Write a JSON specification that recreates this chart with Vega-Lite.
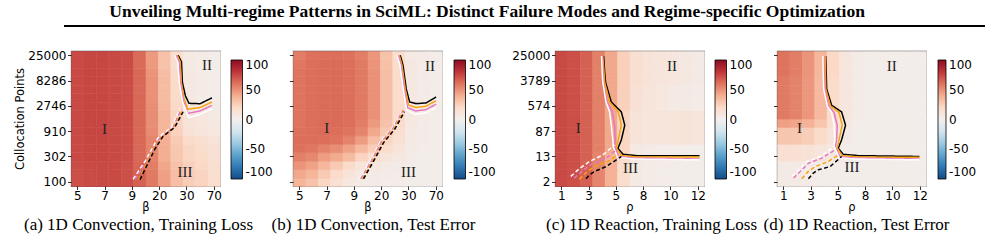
{
"$schema":"https://vega.github.io/schema/vega-lite/v6.json",
"padding":{"left":14,"top":3,"right":0,"bottom":0},
"title":{"text":"Unveiling Multi-regime Patterns in SciML: Distinct Failure Modes and Regime-specific Optimization","font":"Liberation Serif","fontSize":17.5,"fontWeight":"bold","color":"black","anchor":"middle","dx":-40,"offset":4},
"config":{
 "view":{"stroke":"#505050","strokeWidth":1.1},
 "axis":{"labelFont":"DejaVu Sans","labelFontSize":12,"labelColor":"black","titleFont":"DejaVu Sans","titleFontSize":11.5,"titleFontWeight":"normal","titleColor":"black","domain":false,"grid":false,"tickColor":"black","tickSize":3.5,"tickWidth":0.8,"labelPadding":1.5,"titlePadding":2,"labelOverlap":false,"labelFlush":false},
 "axisX":{"titlePadding":0,"labelPadding":1},
 "legend":{"labelFont":"DejaVu Sans","labelFontSize":12,"labelColor":"black"}
},
"vconcat":[
 {"width":969,"height":2,"view":{"stroke":null},"data":{"values":[{"a":0}]},"mark":{"type":"rule","strokeWidth":2.2,"color":"black","xOffset":-7,"x2Offset":-7},
  "encoding":{"x":{"datum":0,"type":"quantitative","scale":{"domain":[0,1]},"axis":null},"x2":{"datum":1},"y":{"datum":0.5,"type":"quantitative","scale":{"domain":[0,1]},"axis":null}}},
 {"hconcat":[
  {"hconcat":[
   {"width":149,"height":135,
    "title":{"text":"(a) 1D Convection, Training Loss","orient":"bottom","anchor":"middle","frame":"group","dx":-7,"offset":4,"font":"Liberation Serif","fontSize":17,"fontWeight":"normal","color":"black"},
    "resolve":{"scale":{"stroke":"independent"}},
    "layer":[
     {"data":{"values":[
{"x":0,"y":0,"v":72},{"x":1,"y":0,"v":73},{"x":2,"y":0,"v":74},{"x":3,"y":0,"v":74},{"x":4,"y":0,"v":72},{"x":5,"y":0,"v":66},{"x":6,"y":0,"v":58},{"x":7,"y":0,"v":45},{"x":8,"y":0,"v":33},{"x":9,"y":0,"v":26},{"x":10,"y":0,"v":23},{"x":11,"y":0,"v":17},
{"x":0,"y":1,"v":72},{"x":1,"y":1,"v":73},{"x":2,"y":1,"v":74},{"x":3,"y":1,"v":74},{"x":4,"y":1,"v":72},{"x":5,"y":1,"v":66},{"x":6,"y":1,"v":58},{"x":7,"y":1,"v":45},{"x":8,"y":1,"v":33},{"x":9,"y":1,"v":26},{"x":10,"y":1,"v":23},{"x":11,"y":1,"v":17},
{"x":0,"y":2,"v":73},{"x":1,"y":2,"v":74},{"x":2,"y":2,"v":74},{"x":3,"y":2,"v":74},{"x":4,"y":2,"v":72},{"x":5,"y":2,"v":65},{"x":6,"y":2,"v":57},{"x":7,"y":2,"v":43},{"x":8,"y":2,"v":31},{"x":9,"y":2,"v":25},{"x":10,"y":2,"v":21},{"x":11,"y":2,"v":16},
{"x":0,"y":3,"v":74},{"x":1,"y":3,"v":75},{"x":2,"y":3,"v":75},{"x":3,"y":3,"v":74},{"x":4,"y":3,"v":73},{"x":5,"y":3,"v":64},{"x":6,"y":3,"v":55},{"x":7,"y":3,"v":40},{"x":8,"y":3,"v":29},{"x":9,"y":3,"v":22},{"x":10,"y":3,"v":19},{"x":11,"y":3,"v":14},
{"x":0,"y":4,"v":74},{"x":1,"y":4,"v":75},{"x":2,"y":4,"v":75},{"x":3,"y":4,"v":74},{"x":4,"y":4,"v":73},{"x":5,"y":4,"v":64},{"x":6,"y":4,"v":54},{"x":7,"y":4,"v":40},{"x":8,"y":4,"v":29},{"x":9,"y":4,"v":22},{"x":10,"y":4,"v":18},{"x":11,"y":4,"v":14},
{"x":0,"y":5,"v":74},{"x":1,"y":5,"v":75},{"x":2,"y":5,"v":75},{"x":3,"y":5,"v":74},{"x":4,"y":5,"v":73},{"x":5,"y":5,"v":64},{"x":6,"y":5,"v":54},{"x":7,"y":5,"v":39},{"x":8,"y":5,"v":27},{"x":9,"y":5,"v":19},{"x":10,"y":5,"v":16},{"x":11,"y":5,"v":12},
{"x":0,"y":6,"v":74},{"x":1,"y":6,"v":75},{"x":2,"y":6,"v":75},{"x":3,"y":6,"v":74},{"x":4,"y":6,"v":73},{"x":5,"y":6,"v":64},{"x":6,"y":6,"v":52},{"x":7,"y":6,"v":37},{"x":8,"y":6,"v":24},{"x":9,"y":6,"v":13},{"x":10,"y":6,"v":10},{"x":11,"y":6,"v":8},
{"x":0,"y":7,"v":74},{"x":1,"y":7,"v":75},{"x":2,"y":7,"v":75},{"x":3,"y":7,"v":74},{"x":4,"y":7,"v":73},{"x":5,"y":7,"v":64},{"x":6,"y":7,"v":51},{"x":7,"y":7,"v":36},{"x":8,"y":7,"v":23},{"x":9,"y":7,"v":12},{"x":10,"y":7,"v":9},{"x":11,"y":7,"v":7},
{"x":0,"y":8,"v":74},{"x":1,"y":8,"v":75},{"x":2,"y":8,"v":75},{"x":3,"y":8,"v":74},{"x":4,"y":8,"v":73},{"x":5,"y":8,"v":64},{"x":6,"y":8,"v":51},{"x":7,"y":8,"v":36},{"x":8,"y":8,"v":22},{"x":9,"y":8,"v":11},{"x":10,"y":8,"v":8},{"x":11,"y":8,"v":6},
{"x":0,"y":9,"v":74},{"x":1,"y":9,"v":75},{"x":2,"y":9,"v":75},{"x":3,"y":9,"v":74},{"x":4,"y":9,"v":73},{"x":5,"y":9,"v":64},{"x":6,"y":9,"v":51},{"x":7,"y":9,"v":35},{"x":8,"y":9,"v":21},{"x":9,"y":9,"v":10},{"x":10,"y":9,"v":7},{"x":11,"y":9,"v":5},
{"x":0,"y":10,"v":74},{"x":1,"y":10,"v":75},{"x":2,"y":10,"v":75},{"x":3,"y":10,"v":74},{"x":4,"y":10,"v":73},{"x":5,"y":10,"v":64},{"x":6,"y":10,"v":50},{"x":7,"y":10,"v":34},{"x":8,"y":10,"v":20},{"x":9,"y":10,"v":7},{"x":10,"y":10,"v":4},{"x":11,"y":10,"v":3},
{"x":0,"y":11,"v":74},{"x":1,"y":11,"v":75},{"x":2,"y":11,"v":75},{"x":3,"y":11,"v":74},{"x":4,"y":11,"v":73},{"x":5,"y":11,"v":64},{"x":6,"y":11,"v":50},{"x":7,"y":11,"v":34},{"x":8,"y":11,"v":20},{"x":9,"y":11,"v":7},{"x":10,"y":11,"v":4},{"x":11,"y":11,"v":3},
{"x":0,"y":12,"v":74},{"x":1,"y":12,"v":75},{"x":2,"y":12,"v":75},{"x":3,"y":12,"v":74},{"x":4,"y":12,"v":73},{"x":5,"y":12,"v":64},{"x":6,"y":12,"v":50},{"x":7,"y":12,"v":34},{"x":8,"y":12,"v":20},{"x":9,"y":12,"v":7},{"x":10,"y":12,"v":4},{"x":11,"y":12,"v":3},
{"x":0,"y":13,"v":74},{"x":1,"y":13,"v":75},{"x":2,"y":13,"v":75},{"x":3,"y":13,"v":74},{"x":4,"y":13,"v":73},{"x":5,"y":13,"v":64},{"x":6,"y":13,"v":49},{"x":7,"y":13,"v":33},{"x":8,"y":13,"v":19},{"x":9,"y":13,"v":7},{"x":10,"y":13,"v":4},{"x":11,"y":13,"v":3},
{"x":0,"y":14,"v":74},{"x":1,"y":14,"v":75},{"x":2,"y":14,"v":75},{"x":3,"y":14,"v":74},{"x":4,"y":14,"v":73},{"x":5,"y":14,"v":63},{"x":6,"y":14,"v":47},{"x":7,"y":14,"v":31},{"x":8,"y":14,"v":17},{"x":9,"y":14,"v":6},{"x":10,"y":14,"v":4},{"x":11,"y":14,"v":3},
{"x":0,"y":15,"v":74},{"x":1,"y":15,"v":75},{"x":2,"y":15,"v":75},{"x":3,"y":15,"v":74},{"x":4,"y":15,"v":73},{"x":5,"y":15,"v":63},{"x":6,"y":15,"v":47},{"x":7,"y":15,"v":31},{"x":8,"y":15,"v":17},{"x":9,"y":15,"v":6},{"x":10,"y":15,"v":4},{"x":11,"y":15,"v":3}
     ]},
      "mark":{"type":"rect","binSpacing":0,"strokeWidth":0.6},
      "encoding":{
       "x":{"field":"x","type":"quantitative","bin":{"step":1,"extent":[0,12]},"scale":{"domain":[0,12],"nice":false,"zero":false},"axis":{"values":[0.5,2.7,4.9,7.1,9.3,11.5],"labelExpr":"['5','7','9','20','30','70'][round((datum.value-0.5)/2.2)]","title":"β"}},
       "y":{"field":"y","type":"quantitative","bin":{"step":1,"extent":[0,16]},"scale":{"domain":[0,16],"nice":false,"zero":false},"axis":{"values":[0.5,3.5,6.5,9.5,12.5,15.5],"labelExpr":"['100','302','910','2746','8286','25000'][floor(datum.value/3)]","title":"Collocation Points"}},
       "color":{"field":"v","type":"quantitative","scale":{"scheme":"redblue","reverse":true,"domain":[-100,100]},"legend":{"orient":"none","legendX":160,"legendY":9,"direction":"vertical","gradientLength":119,"gradientThickness":11.5,"title":null,"values":[-100,-50,0,50,100],"gradientStrokeColor":"black","gradientStrokeWidth":0.8,"labelOffset":3,"labelBaseline":"middle","labelExpr":"replace(datum.label,'−','-')"}},
       "stroke":{"field":"v","type":"quantitative","scale":{"scheme":"redblue","reverse":true,"domain":[-100,100]},"legend":null}
      }},
     {"data":{"values":[
{"m":"m4","b":"I-II","o":0,"x":8.63,"y":15.5},{"m":"m4","b":"I-II","o":1,"x":8.9,"y":14.7},{"m":"m4","b":"I-II","o":2,"x":8.97,"y":12.3},{"m":"m4","b":"I-II","o":3,"x":9.21,"y":10.7},{"m":"m4","b":"I-II","o":4,"x":9.5,"y":9.8},{"m":"m4","b":"I-II","o":5,"x":10.4,"y":9.75},{"m":"m4","b":"I-II","o":6,"x":11.35,"y":10.45},
{"m":"m3","b":"I-II","o":0,"x":8.55,"y":15.5},{"m":"m3","b":"I-II","o":1,"x":8.8,"y":14.7},{"m":"m3","b":"I-II","o":2,"x":8.88,"y":12.3},{"m":"m3","b":"I-II","o":3,"x":9.1,"y":10.4},{"m":"m3","b":"I-II","o":4,"x":9.4,"y":9.1},{"m":"m3","b":"I-II","o":5,"x":10.4,"y":9.3},{"m":"m3","b":"I-II","o":6,"x":11.35,"y":9.95},
{"m":"m2","b":"I-II","o":0,"x":8.45,"y":15.5},{"m":"m2","b":"I-II","o":1,"x":8.7,"y":14.7},{"m":"m2","b":"I-II","o":2,"x":8.8,"y":12.3},{"m":"m2","b":"I-II","o":3,"x":9.05,"y":10.1},{"m":"m2","b":"I-II","o":4,"x":9.4,"y":8.6},{"m":"m2","b":"I-II","o":5,"x":10.4,"y":8.9},{"m":"m2","b":"I-II","o":6,"x":11.35,"y":9.55},
{"m":"m1","b":"I-II","o":0,"x":8.35,"y":15.5},{"m":"m1","b":"I-II","o":1,"x":8.6,"y":14.7},{"m":"m1","b":"I-II","o":2,"x":8.72,"y":12.3},{"m":"m1","b":"I-II","o":3,"x":9.0,"y":9.9},{"m":"m1","b":"I-II","o":4,"x":9.5,"y":8.1},{"m":"m1","b":"I-II","o":5,"x":10.4,"y":8.5},{"m":"m1","b":"I-II","o":6,"x":11.35,"y":9.15},
{"m":"m1","b":"I-III","o":0,"x":5.0,"y":0.8},{"m":"m1","b":"I-III","o":1,"x":6.0,"y":3.0},{"m":"m1","b":"I-III","o":2,"x":7.0,"y":5.7},{"m":"m1","b":"I-III","o":3,"x":8.1,"y":7.0},{"m":"m1","b":"I-III","o":4,"x":8.8,"y":9.2},
{"m":"m2","b":"I-III","o":0,"x":5.15,"y":0.8},{"m":"m2","b":"I-III","o":1,"x":6.15,"y":3.0},{"m":"m2","b":"I-III","o":2,"x":7.1,"y":5.55},{"m":"m2","b":"I-III","o":3,"x":8.2,"y":6.9},{"m":"m2","b":"I-III","o":4,"x":8.88,"y":9.1},
{"m":"m3","b":"I-III","o":0,"x":5.45,"y":0.75},{"m":"m3","b":"I-III","o":1,"x":6.6,"y":4.2},{"m":"m3","b":"I-III","o":2,"x":7.35,"y":5.85},{"m":"m3","b":"I-III","o":3,"x":8.3,"y":6.9},{"m":"m3","b":"I-III","o":4,"x":8.95,"y":8.9},
{"m":"m4","b":"I-III","o":0,"x":5.55,"y":0.75},{"m":"m4","b":"I-III","o":1,"x":6.76,"y":4.4},{"m":"m4","b":"I-III","o":2,"x":7.42,"y":5.9},{"m":"m4","b":"I-III","o":3,"x":8.36,"y":6.95},{"m":"m4","b":"I-III","o":4,"x":9.03,"y":8.8}
     ]},
      "mark":{"type":"line","strokeWidth":1.5},
      "encoding":{
       "x":{"field":"x","type":"quantitative","scale":{"domain":[0,12],"nice":false,"zero":false}},
       "y":{"field":"y","type":"quantitative","scale":{"domain":[0,16],"nice":false,"zero":false}},
       "stroke":{"field":"m","type":"nominal","scale":{"domain":["m1","m2","m3","m4"],"range":["white","#e377c2","#f5a40c","black"]},"legend":null},
       "strokeDash":{"field":"b","type":"nominal","scale":{"domain":["I-II","I-III"],"range":[[1,0],[4,2.5]]},"legend":null},
       "order":{"field":"o","type":"quantitative"}
      }},
     {"data":{"values":[{"t":"I","x":2.7,"y":6.8},{"t":"II","x":10.96,"y":14.35},{"t":"III","x":9.19,"y":1.65}]},
      "mark":{"type":"text","font":"Liberation Serif","fontSize":15,"color":"#222"},
      "encoding":{"x":{"field":"x","type":"quantitative","scale":{"domain":[0,12],"nice":false,"zero":false}},"y":{"field":"y","type":"quantitative","scale":{"domain":[0,16],"nice":false,"zero":false}},"text":{"field":"t"}}}
    ]},
   {"width":149,"height":135,
    "title":{"text":"(b) 1D Convection, Test Error","orient":"bottom","anchor":"middle","frame":"group","dx":6,"offset":4,"font":"Liberation Serif","fontSize":17,"fontWeight":"normal","color":"black"},
    "resolve":{"scale":{"stroke":"independent"}},
    "layer":[
     {"data":{"values":[
{"x":0,"y":0,"v":37},{"x":1,"y":0,"v":31},{"x":2,"y":0,"v":22},{"x":3,"y":0,"v":15},{"x":4,"y":0,"v":8},{"x":5,"y":0,"v":4},{"x":6,"y":0,"v":4},{"x":7,"y":0,"v":3},{"x":8,"y":0,"v":3},{"x":9,"y":0,"v":2},{"x":10,"y":0,"v":2},{"x":11,"y":0,"v":2},
{"x":0,"y":1,"v":42},{"x":1,"y":1,"v":37},{"x":2,"y":1,"v":28},{"x":3,"y":1,"v":20},{"x":4,"y":1,"v":12},{"x":5,"y":1,"v":6},{"x":6,"y":1,"v":5},{"x":7,"y":1,"v":4},{"x":8,"y":1,"v":3},{"x":9,"y":1,"v":3},{"x":10,"y":1,"v":2},{"x":11,"y":1,"v":2},
{"x":0,"y":2,"v":49},{"x":1,"y":2,"v":44},{"x":2,"y":2,"v":36},{"x":3,"y":2,"v":28},{"x":4,"y":2,"v":20},{"x":5,"y":2,"v":10},{"x":6,"y":2,"v":8},{"x":7,"y":2,"v":6},{"x":8,"y":2,"v":4},{"x":9,"y":2,"v":3},{"x":10,"y":2,"v":3},{"x":11,"y":2,"v":2},
{"x":0,"y":3,"v":56},{"x":1,"y":3,"v":53},{"x":2,"y":3,"v":46},{"x":3,"y":3,"v":41},{"x":4,"y":3,"v":34},{"x":5,"y":3,"v":23},{"x":6,"y":3,"v":16},{"x":7,"y":3,"v":11},{"x":8,"y":3,"v":7},{"x":9,"y":3,"v":4},{"x":10,"y":3,"v":3},{"x":11,"y":3,"v":3},
{"x":0,"y":4,"v":61},{"x":1,"y":4,"v":59},{"x":2,"y":4,"v":55},{"x":3,"y":4,"v":51},{"x":4,"y":4,"v":44},{"x":5,"y":4,"v":35},{"x":6,"y":4,"v":26},{"x":7,"y":4,"v":18},{"x":8,"y":4,"v":11},{"x":9,"y":4,"v":5},{"x":10,"y":4,"v":3},{"x":11,"y":4,"v":3},
{"x":0,"y":5,"v":62},{"x":1,"y":5,"v":62},{"x":2,"y":5,"v":62},{"x":3,"y":5,"v":60},{"x":4,"y":5,"v":55},{"x":5,"y":5,"v":46},{"x":6,"y":5,"v":33},{"x":7,"y":5,"v":22},{"x":8,"y":5,"v":14},{"x":9,"y":5,"v":6},{"x":10,"y":5,"v":4},{"x":11,"y":5,"v":3},
{"x":0,"y":6,"v":61},{"x":1,"y":6,"v":62},{"x":2,"y":6,"v":63},{"x":3,"y":6,"v":62},{"x":4,"y":6,"v":60},{"x":5,"y":6,"v":54},{"x":6,"y":6,"v":42},{"x":7,"y":6,"v":28},{"x":8,"y":6,"v":16},{"x":9,"y":6,"v":6},{"x":10,"y":6,"v":4},{"x":11,"y":6,"v":3},
{"x":0,"y":7,"v":60},{"x":1,"y":7,"v":62},{"x":2,"y":7,"v":63},{"x":3,"y":7,"v":63},{"x":4,"y":7,"v":62},{"x":5,"y":7,"v":57},{"x":6,"y":7,"v":47},{"x":7,"y":7,"v":31},{"x":8,"y":7,"v":18},{"x":9,"y":7,"v":7},{"x":10,"y":7,"v":4},{"x":11,"y":7,"v":3},
{"x":0,"y":8,"v":60},{"x":1,"y":8,"v":62},{"x":2,"y":8,"v":63},{"x":3,"y":8,"v":63},{"x":4,"y":8,"v":62},{"x":5,"y":8,"v":58},{"x":6,"y":8,"v":50},{"x":7,"y":8,"v":33},{"x":8,"y":8,"v":19},{"x":9,"y":8,"v":7},{"x":10,"y":8,"v":4},{"x":11,"y":8,"v":3},
{"x":0,"y":9,"v":60},{"x":1,"y":9,"v":62},{"x":2,"y":9,"v":63},{"x":3,"y":9,"v":63},{"x":4,"y":9,"v":62},{"x":5,"y":9,"v":58},{"x":6,"y":9,"v":50},{"x":7,"y":9,"v":33},{"x":8,"y":9,"v":19},{"x":9,"y":9,"v":7},{"x":10,"y":9,"v":4},{"x":11,"y":9,"v":3},
{"x":0,"y":10,"v":60},{"x":1,"y":10,"v":62},{"x":2,"y":10,"v":63},{"x":3,"y":10,"v":63},{"x":4,"y":10,"v":62},{"x":5,"y":10,"v":58},{"x":6,"y":10,"v":50},{"x":7,"y":10,"v":33},{"x":8,"y":10,"v":19},{"x":9,"y":10,"v":7},{"x":10,"y":10,"v":4},{"x":11,"y":10,"v":3},
{"x":0,"y":11,"v":60},{"x":1,"y":11,"v":62},{"x":2,"y":11,"v":63},{"x":3,"y":11,"v":63},{"x":4,"y":11,"v":62},{"x":5,"y":11,"v":58},{"x":6,"y":11,"v":50},{"x":7,"y":11,"v":33},{"x":8,"y":11,"v":19},{"x":9,"y":11,"v":7},{"x":10,"y":11,"v":4},{"x":11,"y":11,"v":3},
{"x":0,"y":12,"v":60},{"x":1,"y":12,"v":62},{"x":2,"y":12,"v":63},{"x":3,"y":12,"v":63},{"x":4,"y":12,"v":62},{"x":5,"y":12,"v":58},{"x":6,"y":12,"v":50},{"x":7,"y":12,"v":33},{"x":8,"y":12,"v":19},{"x":9,"y":12,"v":7},{"x":10,"y":12,"v":4},{"x":11,"y":12,"v":3},
{"x":0,"y":13,"v":60},{"x":1,"y":13,"v":62},{"x":2,"y":13,"v":63},{"x":3,"y":13,"v":63},{"x":4,"y":13,"v":62},{"x":5,"y":13,"v":58},{"x":6,"y":13,"v":50},{"x":7,"y":13,"v":33},{"x":8,"y":13,"v":19},{"x":9,"y":13,"v":7},{"x":10,"y":13,"v":4},{"x":11,"y":13,"v":3},
{"x":0,"y":14,"v":59},{"x":1,"y":14,"v":62},{"x":2,"y":14,"v":63},{"x":3,"y":14,"v":63},{"x":4,"y":14,"v":62},{"x":5,"y":14,"v":58},{"x":6,"y":14,"v":49},{"x":7,"y":14,"v":32},{"x":8,"y":14,"v":18},{"x":9,"y":14,"v":7},{"x":10,"y":14,"v":4},{"x":11,"y":14,"v":3},
{"x":0,"y":15,"v":57},{"x":1,"y":15,"v":61},{"x":2,"y":15,"v":62},{"x":3,"y":15,"v":62},{"x":4,"y":15,"v":61},{"x":5,"y":15,"v":57},{"x":6,"y":15,"v":48},{"x":7,"y":15,"v":31},{"x":8,"y":15,"v":17},{"x":9,"y":15,"v":6},{"x":10,"y":15,"v":4},{"x":11,"y":15,"v":3}
     ]},
      "mark":{"type":"rect","binSpacing":0,"strokeWidth":0.6},
      "encoding":{
       "x":{"field":"x","type":"quantitative","bin":{"step":1,"extent":[0,12]},"scale":{"domain":[0,12],"nice":false,"zero":false},"axis":{"values":[0.5,2.7,4.9,7.1,9.3,11.5],"labelExpr":"['5','7','9','20','30','70'][round((datum.value-0.5)/2.2)]","title":"β"}},
       "y":{"field":"y","type":"quantitative","bin":{"step":1,"extent":[0,16]},"scale":{"domain":[0,16],"nice":false,"zero":false},"axis":{"values":[0.5,3.5,6.5,9.5,12.5,15.5],"labels":false,"title":null}},
       "color":{"field":"v","type":"quantitative","scale":{"scheme":"redblue","reverse":true,"domain":[-100,100]},"legend":{"orient":"none","legendX":161,"legendY":9,"direction":"vertical","gradientLength":119,"gradientThickness":11.5,"title":null,"values":[-100,-50,0,50,100],"gradientStrokeColor":"black","gradientStrokeWidth":0.8,"labelOffset":3,"labelBaseline":"middle","labelExpr":"replace(datum.label,'−','-')"}},
       "stroke":{"field":"v","type":"quantitative","scale":{"scheme":"redblue","reverse":true,"domain":[-100,100]},"legend":null}
      }},
     {"data":{"values":[
{"m":"m4","b":"I-II","o":0,"x":8.64,"y":15.5},{"m":"m4","b":"I-II","o":1,"x":8.86,"y":14.3},{"m":"m4","b":"I-II","o":2,"x":9.12,"y":11.5},{"m":"m4","b":"I-II","o":3,"x":9.39,"y":9.96},{"m":"m4","b":"I-II","o":4,"x":9.92,"y":9.76},{"m":"m4","b":"I-II","o":5,"x":10.72,"y":9.85},{"m":"m4","b":"I-II","o":6,"x":11.52,"y":10.55},
{"m":"m3","b":"I-II","o":0,"x":8.56,"y":15.5},{"m":"m3","b":"I-II","o":1,"x":8.78,"y":14.3},{"m":"m3","b":"I-II","o":2,"x":9.04,"y":11.5},{"m":"m3","b":"I-II","o":3,"x":9.3,"y":9.6},{"m":"m3","b":"I-II","o":4,"x":9.9,"y":9.3},{"m":"m3","b":"I-II","o":5,"x":10.7,"y":9.45},{"m":"m3","b":"I-II","o":6,"x":11.52,"y":10.1},
{"m":"m2","b":"I-II","o":0,"x":8.47,"y":15.5},{"m":"m2","b":"I-II","o":1,"x":8.7,"y":14.3},{"m":"m2","b":"I-II","o":2,"x":8.96,"y":11.5},{"m":"m2","b":"I-II","o":3,"x":9.22,"y":9.3},{"m":"m2","b":"I-II","o":4,"x":9.85,"y":8.9},{"m":"m2","b":"I-II","o":5,"x":10.7,"y":9.05},{"m":"m2","b":"I-II","o":6,"x":11.52,"y":9.7},
{"m":"m1","b":"I-II","o":0,"x":8.38,"y":15.5},{"m":"m1","b":"I-II","o":1,"x":8.62,"y":14.3},{"m":"m1","b":"I-II","o":2,"x":8.88,"y":11.5},{"m":"m1","b":"I-II","o":3,"x":9.15,"y":9.0},{"m":"m1","b":"I-II","o":4,"x":9.8,"y":8.5},{"m":"m1","b":"I-II","o":5,"x":10.7,"y":8.65},{"m":"m1","b":"I-II","o":6,"x":11.52,"y":9.3},
{"m":"m1","b":"I-III","o":0,"x":5.35,"y":0.85},{"m":"m1","b":"I-III","o":1,"x":6.3,"y":3.2},{"m":"m1","b":"I-III","o":2,"x":7.05,"y":5.3},{"m":"m1","b":"I-III","o":3,"x":8.0,"y":6.9},{"m":"m1","b":"I-III","o":4,"x":8.8,"y":9.0},
{"m":"m2","b":"I-III","o":0,"x":5.45,"y":0.85},{"m":"m2","b":"I-III","o":1,"x":6.4,"y":3.2},{"m":"m2","b":"I-III","o":2,"x":7.12,"y":5.25},{"m":"m2","b":"I-III","o":3,"x":8.06,"y":6.85},{"m":"m2","b":"I-III","o":4,"x":8.86,"y":9.0},
{"m":"m3","b":"I-III","o":0,"x":5.6,"y":0.85},{"m":"m3","b":"I-III","o":1,"x":6.6,"y":3.4},{"m":"m3","b":"I-III","o":2,"x":7.25,"y":5.2},{"m":"m3","b":"I-III","o":3,"x":8.15,"y":6.8},{"m":"m3","b":"I-III","o":4,"x":8.92,"y":8.9},
{"m":"m4","b":"I-III","o":0,"x":5.68,"y":0.85},{"m":"m4","b":"I-III","o":1,"x":6.7,"y":3.5},{"m":"m4","b":"I-III","o":2,"x":7.3,"y":5.15},{"m":"m4","b":"I-III","o":3,"x":8.2,"y":6.75},{"m":"m4","b":"I-III","o":4,"x":8.98,"y":8.8}
     ]},
      "mark":{"type":"line","strokeWidth":1.5},
      "encoding":{
       "x":{"field":"x","type":"quantitative","scale":{"domain":[0,12],"nice":false,"zero":false}},
       "y":{"field":"y","type":"quantitative","scale":{"domain":[0,16],"nice":false,"zero":false}},
       "stroke":{"field":"m","type":"nominal","scale":{"domain":["m1","m2","m3","m4"],"range":["white","#e377c2","#f5a40c","black"]},"legend":null},
       "strokeDash":{"field":"b","type":"nominal","scale":{"domain":["I-II","I-III"],"range":[[1,0],[4,2.5]]},"legend":null},
       "order":{"field":"o","type":"quantitative"}
      }},
     {"data":{"values":[{"t":"I","x":2.72,"y":6.9},{"t":"II","x":11.04,"y":14.2},{"t":"III","x":9.31,"y":1.7}]},
      "mark":{"type":"text","font":"Liberation Serif","fontSize":15,"color":"#222"},
      "encoding":{"x":{"field":"x","type":"quantitative","scale":{"domain":[0,12],"nice":false,"zero":false}},"y":{"field":"y","type":"quantitative","scale":{"domain":[0,16],"nice":false,"zero":false}},"text":{"field":"t"}}}
    ]}
  ],"bounds":"flush","spacing":73,"resolve":{"scale":{"color":"independent"},"legend":{"color":"independent"}}},
  {"hconcat":[
   {"width":149,"height":135,
    "title":{"text":"(c) 1D Reaction, Training Loss","orient":"bottom","anchor":"middle","frame":"group","dx":22,"offset":4,"font":"Liberation Serif","fontSize":17,"fontWeight":"normal","color":"black"},
    "resolve":{"scale":{"stroke":"independent"}},
    "layer":[
     {"data":{"values":[
{"x":0,"y":0,"v":74},{"x":1,"y":0,"v":72},{"x":2,"y":0,"v":66},{"x":3,"y":0,"v":54},{"x":4,"y":0,"v":38},{"x":5,"y":0,"v":18},{"x":6,"y":0,"v":6},{"x":7,"y":0,"v":4},{"x":8,"y":0,"v":3},{"x":9,"y":0,"v":3},{"x":10,"y":0,"v":2},{"x":11,"y":0,"v":2},
{"x":0,"y":1,"v":74},{"x":1,"y":1,"v":72},{"x":2,"y":1,"v":66},{"x":3,"y":1,"v":54},{"x":4,"y":1,"v":38},{"x":5,"y":1,"v":18},{"x":6,"y":1,"v":6},{"x":7,"y":1,"v":4},{"x":8,"y":1,"v":3},{"x":9,"y":1,"v":3},{"x":10,"y":1,"v":2},{"x":11,"y":1,"v":2},
{"x":0,"y":2,"v":74},{"x":1,"y":2,"v":72},{"x":2,"y":2,"v":66},{"x":3,"y":2,"v":54},{"x":4,"y":2,"v":38},{"x":5,"y":2,"v":18},{"x":6,"y":2,"v":6},{"x":7,"y":2,"v":4},{"x":8,"y":2,"v":3},{"x":9,"y":2,"v":3},{"x":10,"y":2,"v":2},{"x":11,"y":2,"v":2},
{"x":0,"y":3,"v":74},{"x":1,"y":3,"v":72},{"x":2,"y":3,"v":66},{"x":3,"y":3,"v":54},{"x":4,"y":3,"v":38},{"x":5,"y":3,"v":18},{"x":6,"y":3,"v":6},{"x":7,"y":3,"v":4},{"x":8,"y":3,"v":3},{"x":9,"y":3,"v":3},{"x":10,"y":3,"v":2},{"x":11,"y":3,"v":2},
{"x":0,"y":4,"v":74},{"x":1,"y":4,"v":72},{"x":2,"y":4,"v":66},{"x":3,"y":4,"v":56},{"x":4,"y":4,"v":42},{"x":5,"y":4,"v":22},{"x":6,"y":4,"v":6},{"x":7,"y":4,"v":4},{"x":8,"y":4,"v":3},{"x":9,"y":4,"v":3},{"x":10,"y":4,"v":2},{"x":11,"y":4,"v":2},
{"x":0,"y":5,"v":74},{"x":1,"y":5,"v":72},{"x":2,"y":5,"v":66},{"x":3,"y":5,"v":56},{"x":4,"y":5,"v":42},{"x":5,"y":5,"v":22},{"x":6,"y":5,"v":12},{"x":7,"y":5,"v":10},{"x":8,"y":5,"v":11},{"x":9,"y":5,"v":11},{"x":10,"y":5,"v":12},{"x":11,"y":5,"v":10},
{"x":0,"y":6,"v":74},{"x":1,"y":6,"v":72},{"x":2,"y":6,"v":66},{"x":3,"y":6,"v":56},{"x":4,"y":6,"v":42},{"x":5,"y":6,"v":22},{"x":6,"y":6,"v":12},{"x":7,"y":6,"v":10},{"x":8,"y":6,"v":11},{"x":9,"y":6,"v":11},{"x":10,"y":6,"v":12},{"x":11,"y":6,"v":10},
{"x":0,"y":7,"v":74},{"x":1,"y":7,"v":72},{"x":2,"y":7,"v":66},{"x":3,"y":7,"v":56},{"x":4,"y":7,"v":42},{"x":5,"y":7,"v":22},{"x":6,"y":7,"v":12},{"x":7,"y":7,"v":10},{"x":8,"y":7,"v":11},{"x":9,"y":7,"v":11},{"x":10,"y":7,"v":12},{"x":11,"y":7,"v":10},
{"x":0,"y":8,"v":74},{"x":1,"y":8,"v":72},{"x":2,"y":8,"v":66},{"x":3,"y":8,"v":56},{"x":4,"y":8,"v":42},{"x":5,"y":8,"v":22},{"x":6,"y":8,"v":12},{"x":7,"y":8,"v":10},{"x":8,"y":8,"v":11},{"x":9,"y":8,"v":11},{"x":10,"y":8,"v":12},{"x":11,"y":8,"v":10},
{"x":0,"y":9,"v":74},{"x":1,"y":9,"v":72},{"x":2,"y":9,"v":66},{"x":3,"y":9,"v":56},{"x":4,"y":9,"v":42},{"x":5,"y":9,"v":25},{"x":6,"y":9,"v":14},{"x":7,"y":9,"v":10},{"x":8,"y":9,"v":8},{"x":9,"y":9,"v":6},{"x":10,"y":9,"v":5},{"x":11,"y":9,"v":4},
{"x":0,"y":10,"v":74},{"x":1,"y":10,"v":72},{"x":2,"y":10,"v":66},{"x":3,"y":10,"v":56},{"x":4,"y":10,"v":42},{"x":5,"y":10,"v":25},{"x":6,"y":10,"v":14},{"x":7,"y":10,"v":10},{"x":8,"y":10,"v":8},{"x":9,"y":10,"v":6},{"x":10,"y":10,"v":5},{"x":11,"y":10,"v":4},
{"x":0,"y":11,"v":74},{"x":1,"y":11,"v":72},{"x":2,"y":11,"v":66},{"x":3,"y":11,"v":56},{"x":4,"y":11,"v":42},{"x":5,"y":11,"v":25},{"x":6,"y":11,"v":14},{"x":7,"y":11,"v":10},{"x":8,"y":11,"v":8},{"x":9,"y":11,"v":6},{"x":10,"y":11,"v":5},{"x":11,"y":11,"v":4},
{"x":0,"y":12,"v":74},{"x":1,"y":12,"v":72},{"x":2,"y":12,"v":66},{"x":3,"y":12,"v":56},{"x":4,"y":12,"v":42},{"x":5,"y":12,"v":25},{"x":6,"y":12,"v":16},{"x":7,"y":12,"v":12},{"x":8,"y":12,"v":10},{"x":9,"y":12,"v":9},{"x":10,"y":12,"v":7},{"x":11,"y":12,"v":5},
{"x":0,"y":13,"v":74},{"x":1,"y":13,"v":72},{"x":2,"y":13,"v":66},{"x":3,"y":13,"v":56},{"x":4,"y":13,"v":42},{"x":5,"y":13,"v":25},{"x":6,"y":13,"v":16},{"x":7,"y":13,"v":12},{"x":8,"y":13,"v":10},{"x":9,"y":13,"v":9},{"x":10,"y":13,"v":7},{"x":11,"y":13,"v":5},
{"x":0,"y":14,"v":74},{"x":1,"y":14,"v":72},{"x":2,"y":14,"v":66},{"x":3,"y":14,"v":56},{"x":4,"y":14,"v":42},{"x":5,"y":14,"v":25},{"x":6,"y":14,"v":16},{"x":7,"y":14,"v":12},{"x":8,"y":14,"v":10},{"x":9,"y":14,"v":9},{"x":10,"y":14,"v":7},{"x":11,"y":14,"v":5},
{"x":0,"y":15,"v":74},{"x":1,"y":15,"v":72},{"x":2,"y":15,"v":66},{"x":3,"y":15,"v":56},{"x":4,"y":15,"v":42},{"x":5,"y":15,"v":25},{"x":6,"y":15,"v":16},{"x":7,"y":15,"v":12},{"x":8,"y":15,"v":10},{"x":9,"y":15,"v":9},{"x":10,"y":15,"v":7},{"x":11,"y":15,"v":5}
     ]},
      "mark":{"type":"rect","binSpacing":0,"strokeWidth":0.6},
      "encoding":{
       "x":{"field":"x","type":"quantitative","bin":{"step":1,"extent":[0,12]},"scale":{"domain":[0,12],"nice":false,"zero":false},"axis":{"values":[0.5,2.7,4.9,7.1,9.3,11.5],"labelExpr":"['1','3','5','8','10','12'][round((datum.value-0.5)/2.2)]","title":"ρ"}},
       "y":{"field":"y","type":"quantitative","bin":{"step":1,"extent":[0,16]},"scale":{"domain":[0,16],"nice":false,"zero":false},"axis":{"values":[0.5,3.5,6.5,9.5,12.5,15.5],"labelExpr":"['2','13','87','574','3789','25000'][floor(datum.value/3)]","title":null}},
       "color":{"field":"v","type":"quantitative","scale":{"scheme":"redblue","reverse":true,"domain":[-100,100]},"legend":{"orient":"none","legendX":160,"legendY":9,"direction":"vertical","gradientLength":119,"gradientThickness":11.5,"title":null,"values":[-100,-50,0,50,100],"gradientStrokeColor":"black","gradientStrokeWidth":0.8,"labelOffset":3,"labelBaseline":"middle","labelExpr":"replace(datum.label,'−','-')"}},
       "stroke":{"field":"v","type":"quantitative","scale":{"scheme":"redblue","reverse":true,"domain":[-100,100]},"legend":null}
      }},
     {"data":{"values":[
{"m":"m4","b":"I-II","o":0,"x":3.91,"y":15.4},{"m":"m4","b":"I-II","o":1,"x":4.0,"y":13.5},{"m":"m4","b":"I-II","o":2,"x":4.07,"y":12.3},{"m":"m4","b":"I-II","o":3,"x":4.53,"y":9.96},{"m":"m4","b":"I-II","o":4,"x":5.34,"y":8.79},{"m":"m4","b":"I-II","o":5,"x":5.62,"y":7.2},{"m":"m4","b":"I-II","o":6,"x":5.34,"y":5.45},{"m":"m4","b":"I-II","o":7,"x":5.07,"y":4.47},{"m":"m4","b":"I-II","o":8,"x":5.48,"y":3.76},{"m":"m4","b":"I-II","o":9,"x":6.56,"y":3.6},{"m":"m4","b":"I-II","o":10,"x":9.28,"y":3.6},{"m":"m4","b":"I-II","o":11,"x":11.64,"y":3.6},
{"m":"m3","b":"I-II","o":0,"x":3.85,"y":15.4},{"m":"m3","b":"I-II","o":1,"x":3.95,"y":13.5},{"m":"m3","b":"I-II","o":2,"x":4.0,"y":12.3},{"m":"m3","b":"I-II","o":3,"x":4.4,"y":9.96},{"m":"m3","b":"I-II","o":4,"x":5.1,"y":8.79},{"m":"m3","b":"I-II","o":5,"x":5.34,"y":7.2},{"m":"m3","b":"I-II","o":6,"x":5.1,"y":5.5},{"m":"m3","b":"I-II","o":7,"x":4.95,"y":4.5},{"m":"m3","b":"I-II","o":8,"x":5.35,"y":3.6},{"m":"m3","b":"I-II","o":9,"x":6.5,"y":3.45},{"m":"m3","b":"I-II","o":10,"x":9.28,"y":3.45},{"m":"m3","b":"I-II","o":11,"x":11.64,"y":3.45},
{"m":"m2","b":"I-II","o":0,"x":3.8,"y":15.4},{"m":"m2","b":"I-II","o":1,"x":3.85,"y":13.5},{"m":"m2","b":"I-II","o":2,"x":3.9,"y":12.3},{"m":"m2","b":"I-II","o":3,"x":4.2,"y":10},{"m":"m2","b":"I-II","o":4,"x":4.6,"y":8.8},{"m":"m2","b":"I-II","o":5,"x":4.8,"y":7.2},{"m":"m2","b":"I-II","o":6,"x":4.85,"y":5.5},{"m":"m2","b":"I-II","o":7,"x":4.8,"y":4.7},{"m":"m2","b":"I-II","o":8,"x":5.15,"y":3.5},{"m":"m2","b":"I-II","o":9,"x":6.45,"y":3.3},{"m":"m2","b":"I-II","o":10,"x":9.28,"y":3.25},{"m":"m2","b":"I-II","o":11,"x":11.64,"y":3.2},
{"m":"m1","b":"I-II","o":0,"x":3.75,"y":15.4},{"m":"m1","b":"I-II","o":1,"x":3.8,"y":13.5},{"m":"m1","b":"I-II","o":2,"x":3.85,"y":12.3},{"m":"m1","b":"I-II","o":3,"x":4.1,"y":10},{"m":"m1","b":"I-II","o":4,"x":4.4,"y":8.8},{"m":"m1","b":"I-II","o":5,"x":4.53,"y":7.2},{"m":"m1","b":"I-II","o":6,"x":4.67,"y":5.3},{"m":"m1","b":"I-II","o":7,"x":4.7,"y":4.6},{"m":"m1","b":"I-II","o":8,"x":5.05,"y":3.4},{"m":"m1","b":"I-II","o":9,"x":6.4,"y":3.2},{"m":"m1","b":"I-II","o":10,"x":9.28,"y":3.15},{"m":"m1","b":"I-II","o":11,"x":11.64,"y":3.1},
{"m":"m1","b":"I-III","o":0,"x":1.27,"y":1.14},{"m":"m1","b":"I-III","o":1,"x":2.0,"y":2.1},{"m":"m1","b":"I-III","o":2,"x":2.77,"y":2.9},{"m":"m1","b":"I-III","o":3,"x":3.85,"y":3.68},{"m":"m1","b":"I-III","o":4,"x":4.8,"y":4.86},
{"m":"m2","b":"I-III","o":0,"x":1.55,"y":0.94},{"m":"m2","b":"I-III","o":1,"x":2.3,"y":1.9},{"m":"m2","b":"I-III","o":2,"x":3.04,"y":2.7},{"m":"m2","b":"I-III","o":3,"x":4.12,"y":3.3},{"m":"m2","b":"I-III","o":4,"x":4.94,"y":4.27},
{"m":"m3","b":"I-III","o":0,"x":1.95,"y":0.82},{"m":"m3","b":"I-III","o":1,"x":2.6,"y":1.7},{"m":"m3","b":"I-III","o":2,"x":3.18,"y":2.3},{"m":"m3","b":"I-III","o":3,"x":4.26,"y":2.9},{"m":"m3","b":"I-III","o":4,"x":5.07,"y":3.68},
{"m":"m4","b":"I-III","o":0,"x":2.5,"y":0.86},{"m":"m4","b":"I-III","o":1,"x":2.85,"y":1.4},{"m":"m4","b":"I-III","o":2,"x":3.18,"y":1.73},{"m":"m4","b":"I-III","o":3,"x":4.12,"y":2.3},{"m":"m4","b":"I-III","o":4,"x":5.34,"y":3.49}
     ]},
      "mark":{"type":"line","strokeWidth":1.5},
      "encoding":{
       "x":{"field":"x","type":"quantitative","scale":{"domain":[0,12],"nice":false,"zero":false}},
       "y":{"field":"y","type":"quantitative","scale":{"domain":[0,16],"nice":false,"zero":false}},
       "stroke":{"field":"m","type":"nominal","scale":{"domain":["m1","m2","m3","m4"],"range":["white","#e377c2","#f5a40c","black"]},"legend":null},
       "strokeDash":{"field":"b","type":"nominal","scale":{"domain":["I-II","I-III"],"range":[[1,0],[4,2.5]]},"legend":null},
       "order":{"field":"o","type":"quantitative"}
      }},
     {"data":{"values":[{"t":"I","x":1.87,"y":6.9},{"t":"II","x":9.42,"y":14.2},{"t":"III","x":6.08,"y":2.15}]},
      "mark":{"type":"text","font":"Liberation Serif","fontSize":15,"color":"#222"},
      "encoding":{"x":{"field":"x","type":"quantitative","scale":{"domain":[0,12],"nice":false,"zero":false}},"y":{"field":"y","type":"quantitative","scale":{"domain":[0,16],"nice":false,"zero":false}},"text":{"field":"t"}}}
    ]},
   {"width":149,"height":135,
    "title":{"text":"(d) 1D Reaction, Test Error","orient":"bottom","anchor":"middle","frame":"group","dx":5,"offset":4,"font":"Liberation Serif","fontSize":17,"fontWeight":"normal","color":"black"},
    "resolve":{"scale":{"stroke":"independent"}},
    "layer":[
     {"data":{"values":[
{"x":0,"y":0,"v":5},{"x":1,"y":0,"v":5},{"x":2,"y":0,"v":4},{"x":3,"y":0,"v":3},{"x":4,"y":0,"v":3},{"x":5,"y":0,"v":2},{"x":6,"y":0,"v":2},{"x":7,"y":0,"v":2},{"x":8,"y":0,"v":2},{"x":9,"y":0,"v":2},{"x":10,"y":0,"v":2},{"x":11,"y":0,"v":2},
{"x":0,"y":1,"v":5},{"x":1,"y":1,"v":5},{"x":2,"y":1,"v":4},{"x":3,"y":1,"v":3},{"x":4,"y":1,"v":3},{"x":5,"y":1,"v":2},{"x":6,"y":1,"v":2},{"x":7,"y":1,"v":2},{"x":8,"y":1,"v":2},{"x":9,"y":1,"v":2},{"x":10,"y":1,"v":2},{"x":11,"y":1,"v":2},
{"x":0,"y":2,"v":5},{"x":1,"y":2,"v":5},{"x":2,"y":2,"v":4},{"x":3,"y":2,"v":3},{"x":4,"y":2,"v":3},{"x":5,"y":2,"v":2},{"x":6,"y":2,"v":2},{"x":7,"y":2,"v":2},{"x":8,"y":2,"v":2},{"x":9,"y":2,"v":2},{"x":10,"y":2,"v":2},{"x":11,"y":2,"v":2},
{"x":0,"y":3,"v":15},{"x":1,"y":3,"v":14},{"x":2,"y":3,"v":13},{"x":3,"y":3,"v":10},{"x":4,"y":3,"v":7},{"x":5,"y":3,"v":3},{"x":6,"y":3,"v":2},{"x":7,"y":3,"v":2},{"x":8,"y":3,"v":2},{"x":9,"y":3,"v":2},{"x":10,"y":3,"v":2},{"x":11,"y":3,"v":2},
{"x":0,"y":4,"v":15},{"x":1,"y":4,"v":14},{"x":2,"y":4,"v":13},{"x":3,"y":4,"v":10},{"x":4,"y":4,"v":7},{"x":5,"y":4,"v":3},{"x":6,"y":4,"v":2},{"x":7,"y":4,"v":2},{"x":8,"y":4,"v":2},{"x":9,"y":4,"v":2},{"x":10,"y":4,"v":2},{"x":11,"y":4,"v":2},
{"x":0,"y":5,"v":30},{"x":1,"y":5,"v":29},{"x":2,"y":5,"v":26},{"x":3,"y":5,"v":20},{"x":4,"y":5,"v":12},{"x":5,"y":5,"v":5},{"x":6,"y":5,"v":2},{"x":7,"y":5,"v":2},{"x":8,"y":5,"v":2},{"x":9,"y":5,"v":2},{"x":10,"y":5,"v":2},{"x":11,"y":5,"v":2},
{"x":0,"y":6,"v":30},{"x":1,"y":6,"v":29},{"x":2,"y":6,"v":26},{"x":3,"y":6,"v":20},{"x":4,"y":6,"v":12},{"x":5,"y":6,"v":5},{"x":6,"y":6,"v":2},{"x":7,"y":6,"v":2},{"x":8,"y":6,"v":2},{"x":9,"y":6,"v":2},{"x":10,"y":6,"v":2},{"x":11,"y":6,"v":2},
{"x":0,"y":7,"v":45},{"x":1,"y":7,"v":43},{"x":2,"y":7,"v":38},{"x":3,"y":7,"v":30},{"x":4,"y":7,"v":17},{"x":5,"y":7,"v":7},{"x":6,"y":7,"v":3},{"x":7,"y":7,"v":2},{"x":8,"y":7,"v":2},{"x":9,"y":7,"v":2},{"x":10,"y":7,"v":2},{"x":11,"y":7,"v":2},
{"x":0,"y":8,"v":58},{"x":1,"y":8,"v":55},{"x":2,"y":8,"v":48},{"x":3,"y":8,"v":35},{"x":4,"y":8,"v":20},{"x":5,"y":8,"v":9},{"x":6,"y":8,"v":4},{"x":7,"y":8,"v":2},{"x":8,"y":8,"v":2},{"x":9,"y":8,"v":2},{"x":10,"y":8,"v":2},{"x":11,"y":8,"v":2},
{"x":0,"y":9,"v":58},{"x":1,"y":9,"v":55},{"x":2,"y":9,"v":48},{"x":3,"y":9,"v":35},{"x":4,"y":9,"v":20},{"x":5,"y":9,"v":9},{"x":6,"y":9,"v":4},{"x":7,"y":9,"v":2},{"x":8,"y":9,"v":2},{"x":9,"y":9,"v":2},{"x":10,"y":9,"v":2},{"x":11,"y":9,"v":2},
{"x":0,"y":10,"v":58},{"x":1,"y":10,"v":55},{"x":2,"y":10,"v":48},{"x":3,"y":10,"v":35},{"x":4,"y":10,"v":20},{"x":5,"y":10,"v":9},{"x":6,"y":10,"v":4},{"x":7,"y":10,"v":2},{"x":8,"y":10,"v":2},{"x":9,"y":10,"v":2},{"x":10,"y":10,"v":2},{"x":11,"y":10,"v":2},
{"x":0,"y":11,"v":58},{"x":1,"y":11,"v":55},{"x":2,"y":11,"v":48},{"x":3,"y":11,"v":35},{"x":4,"y":11,"v":20},{"x":5,"y":11,"v":9},{"x":6,"y":11,"v":4},{"x":7,"y":11,"v":2},{"x":8,"y":11,"v":2},{"x":9,"y":11,"v":2},{"x":10,"y":11,"v":2},{"x":11,"y":11,"v":2},
{"x":0,"y":12,"v":58},{"x":1,"y":12,"v":55},{"x":2,"y":12,"v":48},{"x":3,"y":12,"v":35},{"x":4,"y":12,"v":20},{"x":5,"y":12,"v":9},{"x":6,"y":12,"v":4},{"x":7,"y":12,"v":2},{"x":8,"y":12,"v":2},{"x":9,"y":12,"v":2},{"x":10,"y":12,"v":2},{"x":11,"y":12,"v":2},
{"x":0,"y":13,"v":60},{"x":1,"y":13,"v":57},{"x":2,"y":13,"v":49},{"x":3,"y":13,"v":36},{"x":4,"y":13,"v":21},{"x":5,"y":13,"v":9},{"x":6,"y":13,"v":4},{"x":7,"y":13,"v":2},{"x":8,"y":13,"v":2},{"x":9,"y":13,"v":2},{"x":10,"y":13,"v":2},{"x":11,"y":13,"v":2},
{"x":0,"y":14,"v":60},{"x":1,"y":14,"v":57},{"x":2,"y":14,"v":49},{"x":3,"y":14,"v":36},{"x":4,"y":14,"v":21},{"x":5,"y":14,"v":9},{"x":6,"y":14,"v":4},{"x":7,"y":14,"v":2},{"x":8,"y":14,"v":2},{"x":9,"y":14,"v":2},{"x":10,"y":14,"v":2},{"x":11,"y":14,"v":2},
{"x":0,"y":15,"v":60},{"x":1,"y":15,"v":57},{"x":2,"y":15,"v":49},{"x":3,"y":15,"v":36},{"x":4,"y":15,"v":21},{"x":5,"y":15,"v":9},{"x":6,"y":15,"v":4},{"x":7,"y":15,"v":2},{"x":8,"y":15,"v":2},{"x":9,"y":15,"v":2},{"x":10,"y":15,"v":2},{"x":11,"y":15,"v":2}
     ]},
      "mark":{"type":"rect","binSpacing":0,"strokeWidth":0.6},
      "encoding":{
       "x":{"field":"x","type":"quantitative","bin":{"step":1,"extent":[0,12]},"scale":{"domain":[0,12],"nice":false,"zero":false},"axis":{"values":[0.5,2.7,4.9,7.1,9.3,11.5],"labelExpr":"['1','3','5','8','10','12'][round((datum.value-0.5)/2.2)]","title":"ρ"}},
       "y":{"field":"y","type":"quantitative","bin":{"step":1,"extent":[0,16]},"scale":{"domain":[0,16],"nice":false,"zero":false},"axis":{"values":[0.5,3.5,6.5,9.5,12.5,15.5],"labels":false,"title":null}},
       "color":{"field":"v","type":"quantitative","scale":{"scheme":"redblue","reverse":true,"domain":[-100,100]},"legend":{"orient":"none","legendX":161,"legendY":9,"direction":"vertical","gradientLength":119,"gradientThickness":8,"title":null,"values":[-100,-50,0,50,100],"gradientStrokeColor":"black","gradientStrokeWidth":0.8,"labelOffset":3,"labelBaseline":"middle","labelExpr":"replace(datum.label,'−','-')"}},
       "stroke":{"field":"v","type":"quantitative","scale":{"scheme":"redblue","reverse":true,"domain":[-100,100]},"legend":null}
      }},
     {"data":{"values":[
{"m":"m4","b":"I-II","o":0,"x":3.92,"y":15.4},{"m":"m4","b":"I-II","o":1,"x":3.96,"y":13.5},{"m":"m4","b":"I-II","o":2,"x":4.0,"y":11.5},{"m":"m4","b":"I-II","o":3,"x":4.4,"y":9.57},{"m":"m4","b":"I-II","o":4,"x":5.2,"y":8.79},{"m":"m4","b":"I-II","o":5,"x":5.52,"y":7.2},{"m":"m4","b":"I-II","o":6,"x":5.2,"y":5.45},{"m":"m4","b":"I-II","o":7,"x":4.93,"y":4.47},{"m":"m4","b":"I-II","o":8,"x":5.33,"y":3.76},{"m":"m4","b":"I-II","o":9,"x":6.53,"y":3.6},{"m":"m4","b":"I-II","o":10,"x":9.0,"y":3.55},{"m":"m4","b":"I-II","o":11,"x":11.47,"y":3.5},
{"m":"m3","b":"I-II","o":0,"x":3.88,"y":15.4},{"m":"m3","b":"I-II","o":1,"x":3.9,"y":13.5},{"m":"m3","b":"I-II","o":2,"x":3.93,"y":11.5},{"m":"m3","b":"I-II","o":3,"x":4.3,"y":9.5},{"m":"m3","b":"I-II","o":4,"x":5.0,"y":8.7},{"m":"m3","b":"I-II","o":5,"x":5.25,"y":7.2},{"m":"m3","b":"I-II","o":6,"x":5.0,"y":5.5},{"m":"m3","b":"I-II","o":7,"x":4.85,"y":4.5},{"m":"m3","b":"I-II","o":8,"x":5.25,"y":3.6},{"m":"m3","b":"I-II","o":9,"x":6.5,"y":3.45},{"m":"m3","b":"I-II","o":10,"x":9.0,"y":3.4},{"m":"m3","b":"I-II","o":11,"x":11.47,"y":3.4},
{"m":"m2","b":"I-II","o":0,"x":3.78,"y":15.4},{"m":"m2","b":"I-II","o":1,"x":3.8,"y":13.5},{"m":"m2","b":"I-II","o":2,"x":3.85,"y":11.5},{"m":"m2","b":"I-II","o":3,"x":4.15,"y":9.5},{"m":"m2","b":"I-II","o":4,"x":4.6,"y":8.7},{"m":"m2","b":"I-II","o":5,"x":4.85,"y":7.2},{"m":"m2","b":"I-II","o":6,"x":4.8,"y":5.5},{"m":"m2","b":"I-II","o":7,"x":4.7,"y":4.6},{"m":"m2","b":"I-II","o":8,"x":5.1,"y":3.45},{"m":"m2","b":"I-II","o":9,"x":6.45,"y":3.3},{"m":"m2","b":"I-II","o":10,"x":9.0,"y":3.25},{"m":"m2","b":"I-II","o":11,"x":11.47,"y":3.2},
{"m":"m1","b":"I-II","o":0,"x":3.7,"y":15.4},{"m":"m1","b":"I-II","o":1,"x":3.72,"y":13.5},{"m":"m1","b":"I-II","o":2,"x":3.76,"y":11.5},{"m":"m1","b":"I-II","o":3,"x":4.05,"y":9.5},{"m":"m1","b":"I-II","o":4,"x":4.4,"y":8.7},{"m":"m1","b":"I-II","o":5,"x":4.6,"y":7.2},{"m":"m1","b":"I-II","o":6,"x":4.65,"y":5.5},{"m":"m1","b":"I-II","o":7,"x":4.6,"y":4.7},{"m":"m1","b":"I-II","o":8,"x":5.0,"y":3.35},{"m":"m1","b":"I-II","o":9,"x":6.4,"y":3.2},{"m":"m1","b":"I-II","o":10,"x":9.0,"y":3.15},{"m":"m1","b":"I-II","o":11,"x":11.47,"y":3.1},
{"m":"m1","b":"I-III","o":0,"x":1.2,"y":1.1},{"m":"m1","b":"I-III","o":1,"x":1.9,"y":2.1},{"m":"m1","b":"I-III","o":2,"x":2.4,"y":2.9},{"m":"m1","b":"I-III","o":3,"x":3.5,"y":3.5},{"m":"m1","b":"I-III","o":4,"x":4.55,"y":4.6},
{"m":"m2","b":"I-III","o":0,"x":1.33,"y":0.94},{"m":"m2","b":"I-III","o":1,"x":2.0,"y":1.9},{"m":"m2","b":"I-III","o":2,"x":2.53,"y":2.7},{"m":"m2","b":"I-III","o":3,"x":3.6,"y":3.3},{"m":"m2","b":"I-III","o":4,"x":4.67,"y":4.27},
{"m":"m3","b":"I-III","o":0,"x":2.0,"y":0.86},{"m":"m3","b":"I-III","o":1,"x":2.5,"y":1.7},{"m":"m3","b":"I-III","o":2,"x":3.07,"y":2.3},{"m":"m3","b":"I-III","o":3,"x":4.13,"y":2.9},{"m":"m3","b":"I-III","o":4,"x":4.93,"y":3.68},
{"m":"m4","b":"I-III","o":0,"x":2.53,"y":0.86},{"m":"m4","b":"I-III","o":1,"x":2.9,"y":1.5},{"m":"m4","b":"I-III","o":2,"x":3.33,"y":1.92},{"m":"m4","b":"I-III","o":3,"x":4.27,"y":2.3},{"m":"m4","b":"I-III","o":4,"x":5.2,"y":3.49}
     ]},
      "mark":{"type":"line","strokeWidth":1.5},
      "encoding":{
       "x":{"field":"x","type":"quantitative","scale":{"domain":[0,12],"nice":false,"zero":false}},
       "y":{"field":"y","type":"quantitative","scale":{"domain":[0,16],"nice":false,"zero":false}},
       "stroke":{"field":"m","type":"nominal","scale":{"domain":["m1","m2","m3","m4"],"range":["white","#e377c2","#f5a40c","black"]},"legend":null},
       "strokeDash":{"field":"b","type":"nominal","scale":{"domain":["I-II","I-III"],"range":[[1,0],[4,2.5]]},"legend":null},
       "order":{"field":"o","type":"quantitative"}
      }},
     {"data":{"values":[{"t":"I","x":1.81,"y":6.9},{"t":"II","x":9.25,"y":14.2},{"t":"III","x":6.05,"y":2.2}]},
      "mark":{"type":"text","font":"Liberation Serif","fontSize":15,"color":"#222"},
      "encoding":{"x":{"field":"x","type":"quantitative","scale":{"domain":[0,12],"nice":false,"zero":false}},"y":{"field":"y","type":"quantitative","scale":{"domain":[0,16],"nice":false,"zero":false}},"text":{"field":"t"}}}
    ]}
  ],"bounds":"flush","spacing":73,"resolve":{"scale":{"color":"independent"},"legend":{"color":"independent"}}}
 ],"spacing":14,"resolve":{"scale":{"color":"independent"},"legend":{"color":"independent"}}}
],"spacing":20,"resolve":{"scale":{"color":"independent"},"legend":{"color":"independent"}}
}
